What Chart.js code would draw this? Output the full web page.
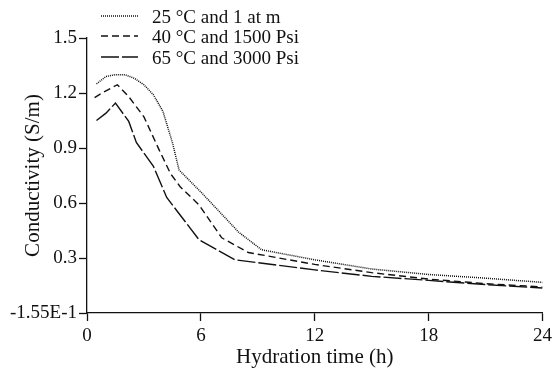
<!DOCTYPE html>
<html>
<head>
<meta charset="utf-8">
<script src="https://cdn.jsdelivr.net/npm/chart.js@4/dist/chart.umd.min.js"></script>
<style>
  html, body { margin: 0; padding: 0; background: #fff; }
  #wrap { width: 556px; height: 371px; position: relative; }
</style>
</head>
<body>
<div id="wrap"><canvas id="chart"></canvas></div>
<script>
const seriesLabels = ["25 \u00B0C and 1 at m", "40 \u00B0C and 1500 Psi", "65 \u00B0C and 3000 Psi"];

const hours25 = [0.5, 1, 1.5, 2, 2.5, 3, 3.5, 4, 4.5, 4.85, 6, 7, 8, 9.2, 12, 15, 18, 21, 24];
const cond25 = [1.25, 1.29, 1.30, 1.30, 1.28, 1.245, 1.19, 1.10, 0.93, 0.78, 0.66, 0.55, 0.44, 0.345, 0.29, 0.24, 0.21, 0.19, 0.167];

const hours40 = [0.4, 0.8, 1.6, 2.2, 3, 3.8, 4.4, 4.9, 5.9, 7.1, 8.5, 12, 15, 18, 21, 24];
const cond40 = [1.175, 1.20, 1.245, 1.18, 1.07, 0.89, 0.76, 0.69, 0.59, 0.41, 0.33, 0.265, 0.22, 0.185, 0.16, 0.142];

const hours65 = [0.5, 1.0, 1.5, 2.2, 2.6, 3.5, 4.2, 5.9, 7.8, 12, 15, 18, 21, 24];
const cond65 = [1.05, 1.09, 1.145, 1.045, 0.93, 0.80, 0.63, 0.40, 0.29, 0.235, 0.20, 0.178, 0.155, 0.136];

const yTickLabels = ["-1.55E-1", "0.3", "0.6", "0.9", "1.2", "1.5"];

const FONT = "'Liberation Serif', 'Times New Roman', serif";

function pts(xs, ys) {
  return xs.map((x, i) => ({ x: x, y: ys[i] }));
}

// legend drawn by hand, it sits over the plot's upper left corner
const legendRows = [17, 37, 58];
const handLegend = {
  id: "handLegend",
  afterDraw(chart) {
    const ctx = chart.ctx;
    ctx.save();
    chart.data.datasets.forEach((ds, i) => {
      const y = legendRows[i];
      ctx.strokeStyle = ds.borderColor;
      ctx.lineWidth = ds.borderWidth;
      ctx.setLineDash(ds.borderDash || []);
      ctx.beginPath();
      ctx.moveTo(101, y - 1);
      ctx.lineTo(138, y - 1);
      ctx.stroke();
      ctx.setLineDash([]);
      ctx.fillStyle = "#111";
      ctx.font = "19px " + FONT;
      ctx.textBaseline = "middle";
      ctx.fillText(ds.label, 152, y + 1);
    });
    ctx.restore();
  }
};

new Chart(document.getElementById("chart"), {
  type: "line",
  data: {
    datasets: [
      { label: seriesLabels[0], data: pts(hours25, cond25), borderColor: "#111", borderWidth: 1.5, borderDash: [1, 1], pointRadius: 0, tension: 0 },
      { label: seriesLabels[1], data: pts(hours40, cond40), borderColor: "#111", borderWidth: 1.4, borderDash: [7, 4], pointRadius: 0, tension: 0 },
      { label: seriesLabels[2], data: pts(hours65, cond65), borderColor: "#111", borderWidth: 1.4, borderDash: [18, 3], pointRadius: 0, tension: 0 }
    ]
  },
  options: {
    responsive: true,
    maintainAspectRatio: false,
    animation: false,
    layout: { padding: { top: 38, right: 11, left: 0, bottom: 0 } },
    plugins: {
      legend: { display: false },
      tooltip: { enabled: false }
    },
    scales: {
      x: {
        type: "linear",
        min: 0,
        max: 24,
        ticks: { stepSize: 6, color: "#111", font: { family: FONT, size: 19 }, padding: 4, maxRotation: 0 },
        grid: { drawOnChartArea: false, tickLength: 8, tickColor: "#111", tickWidth: 1.3 },
        border: { color: "#111", width: 1.3 },
        title: { display: true, text: "Hydration time (h)", color: "#111", font: { family: FONT, size: 21 }, padding: { top: 0, bottom: 1 } },
        afterFit(scale) { scale.height = 58; }
      },
      y: {
        min: 0,
        max: 1.5,
        ticks: {
          stepSize: 0.3,
          color: "#111",
          font: { family: FONT, size: 19 },
          padding: 2,
          callback: (v, i) => yTickLabels[i]
        },
        grid: { drawOnChartArea: false, tickLength: 8, tickColor: "#111", tickWidth: 1.3 },
        border: { color: "#111", width: 1.3 },
        title: { display: true, text: "Conductivity (S/m)", color: "#111", font: { family: FONT, size: 21 }, padding: { top: 21, bottom: 0 } },
        afterFit(scale) { scale.width = 87; }
      }
    }
  },
  plugins: [handLegend]
});
</script>
</body>
</html>
